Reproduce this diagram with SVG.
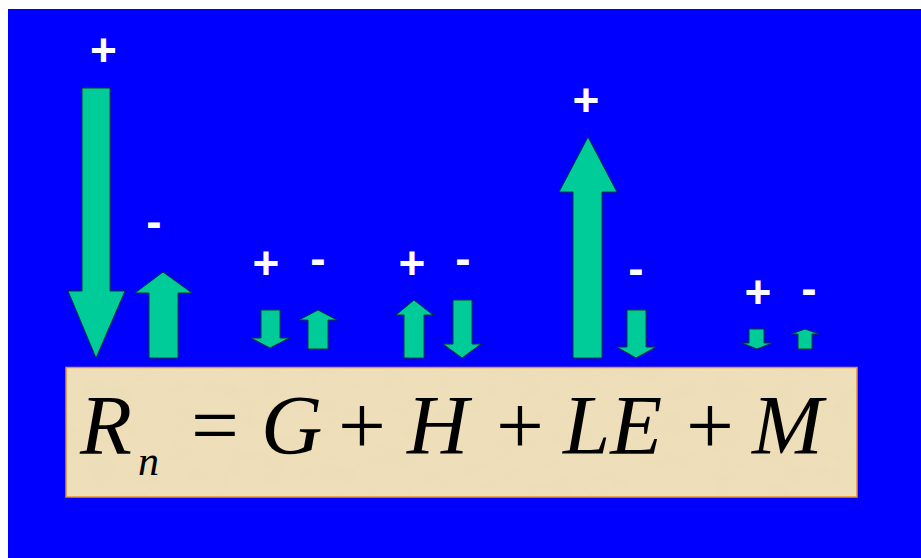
<svg xmlns="http://www.w3.org/2000/svg" width="921" height="558" viewBox="0 0 921 558">
  <defs>
    <style>
      .arrow { fill: #00CC99; stroke: #0A3A2A; stroke-width: 1; stroke-linejoin: miter; }
      .sign { fill: #FFFFFF; font-family: "Liberation Sans", Arial, sans-serif; font-weight: bold; font-size: 46px; text-anchor: middle; }
      .math { font-family: "Liberation Serif", "DejaVu Serif", serif; font-size: 85px; fill: #000000; }
      .it { font-style: italic; }
    </style>
    <filter id="paper" x="0" y="0" width="100%" height="100%">
      <feTurbulence type="fractalNoise" baseFrequency="0.035 0.06" numOctaves="3" seed="7" result="n"/>
      <feColorMatrix in="n" type="matrix" values="0 0 0 0 0.82  0 0 0 0 0.70  0 0 0 0 0.48  0 0 0 1.4 -0.55"/>
    </filter>
  </defs>
  <rect x="0" y="0" width="921" height="558" fill="#FFFFFF"/>
  <rect x="8" y="9" width="913" height="549" fill="#0000FF"/>

  <g id="equation-box">
    <rect x="66" y="367.5" width="791" height="129.5" fill="#EEDFBA" stroke="#E8902A" stroke-width="1.5"/>
    <rect x="67" y="368.5" width="789" height="127.5" filter="url(#paper)" opacity="0.55"/>
    <text class="math it" x="80" y="454">R</text>
    <text class="math it" x="138" y="475" style="font-size:42px">n</text>
    <text class="math" x="191" y="454">=</text>
    <text class="math it" x="261" y="454">G</text>
    <text class="math" x="338" y="454">+</text>
    <text class="math it" x="407" y="454">H</text>
    <text class="math" x="496" y="454">+</text>
    <text class="math it" x="563" y="454">LE</text>
    <text class="math" x="686" y="454">+</text>
    <text class="math it" x="752" y="454">M</text>
  </g>

  <g id="net-radiation">
    <polygon class="arrow" points="82,88 110,88 110,291 125,291 96,358 68,291 82,291"/>
    <text class="sign" x="103.5" y="66">+</text>
    <polygon class="arrow" points="149,358 178,358 178,293 192,293 163,272 135,293 149,293"/>
    <text class="sign" x="154" y="236.5">-</text>
  </g>

  <g id="ground-flux">
    <polygon class="arrow" points="261,310 280,310 280,338 289,338 270,348 251,338 261,338"/>
    <text class="sign" x="266" y="279">+</text>
    <polygon class="arrow" points="308,349 328,349 328,320 337,320 318,310 299,320 308,320"/>
    <text class="sign" x="318" y="274">-</text>
  </g>

  <g id="sensible-heat">
    <polygon class="arrow" points="404,358 424,358 424,315 433,315 414,300 396,315 404,315"/>
    <text class="sign" x="412" y="279">+</text>
    <polygon class="arrow" points="453,300 472,300 472,344 481,344 462,358 443,344 453,344"/>
    <text class="sign" x="463" y="274">-</text>
  </g>

  <g id="latent-heat">
    <polygon class="arrow" points="573,358 602,358 602,192 617,192 588,137 559,192 573,192"/>
    <text class="sign" x="586" y="116">+</text>
    <polygon class="arrow" points="627,310 646,310 646,347 656,347 636,358 617,347 627,347"/>
    <text class="sign" x="636" y="284">-</text>
  </g>

  <g id="storage">
    <polygon class="arrow" points="749,329 764,329 764,343 772,343 757,349 742,343 749,343"/>
    <text class="sign" x="758" y="308">+</text>
    <polygon class="arrow" points="798,349 812,349 812,334 819,334 805,329 791,334 798,334"/>
    <text class="sign" x="809" y="304">-</text>
  </g>

  <g id="connectors"/>
</svg>
